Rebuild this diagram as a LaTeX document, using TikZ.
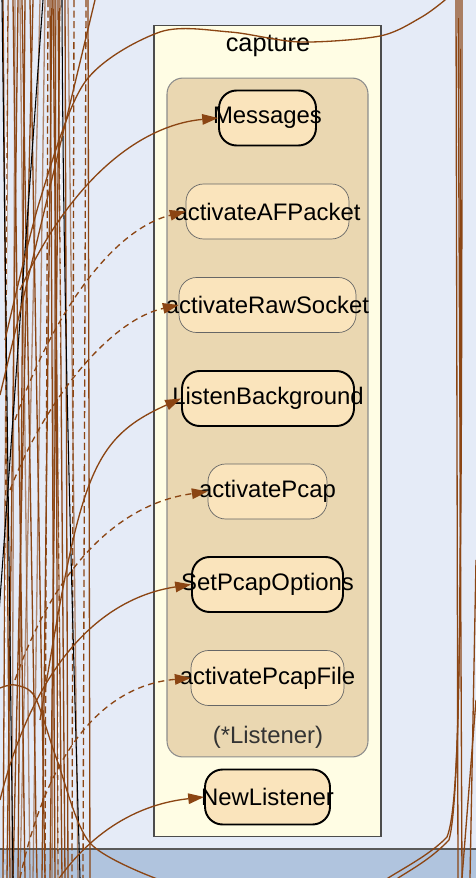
\documentclass[tikz,border=0pt]{standalone}
\usepackage{fontspec}
\setmainfont{Liberation Sans}
\usetikzlibrary{arrows.meta}
\usepackage{xcolor}
\definecolor{bgblue}{HTML}{E5EBF7}
\definecolor{bandblue}{HTML}{B0C4DE}
\definecolor{pkgfill}{HTML}{FFFDE4}
\definecolor{typefill}{HTML}{EAD7B1}
\definecolor{fnfill}{HTML}{FAE4BC}
\definecolor{edgebrown}{HTML}{8B4513}
\newcommand{\fnlabel}[1]{\makebox[0pt]{#1}}

\begin{document}
\begin{tikzpicture}[x=0.02cm,y=-0.02cm,>={Triangle[length=9pt,width=6pt]}, every node/.style={font=\fontsize{13.6}{16}\selectfont}]
\tikzstyle{fn}=[draw=black!60, line width=0.4pt, rounded corners=10pt, fill=fnfill, minimum height=1.1cm, inner sep=0pt]
\tikzstyle{fnx}=[fn, draw=black, line width=1.1pt]
\tikzstyle{cluster}=[draw, line width=0.6pt, inner sep=0pt]
\tikzstyle{call}=[->, draw=edgebrown, fill=none, line width=0.75pt]
\tikzstyle{dcall}=[call, dash pattern=on 3.5pt off 2.5pt]
\tikzstyle{wire}=[draw=edgebrown, line width=0.75pt]
\useasboundingbox (0,0) rectangle (476,878);
\clip (0,0) rectangle (476,878);
% background and bottom band
\fill[bgblue] (0,0) rectangle (476,878);
\fill[bandblue] (0,849) rectangle (476,878);
\draw[black!65, line width=0.6pt] (0,849) -- (476,849);
% calls coming in from the left, off the picture
\foreach \a/\b in {3/10, 8/3, 13/25, 18/7, 22/37, 25/18, 30/45, 33/13, 50/55, 52/42, 53/62, 55/58, 58/65, 65/68, 88/90, 60/50}
  \draw[wire] (\a,0) -- (\b,878);
\foreach \a/\b in {20/30, 40/20, 45/33, 68/78, 15/12, 56/52}
  \draw[wire, opacity=0.6] (\a,0) -- (\b,878);
\foreach \a/\b in {74/72, 86/83, 48/45}
  \draw[wire, dash pattern=on 4pt off 2pt] (\a,0) -- (\b,878);
\foreach \a/\b in {7/5, 61/58}
  \draw[wire, white, line width=0.5pt, dash pattern=on 3pt off 3pt] (\a,0) -- (\b,878);
\foreach \a/\b in {43/-20, 2/13}
  \draw[black, line width=0.6pt] (\a,0) -- (\b,878);
\draw[black, line width=0.6pt] (62,0) .. controls (63,300) and (72,600) .. (80,878);
\draw[wire] (95,0) -- (0,395);
\draw[wire] plot[smooth] coordinates {(0,688) (15,685) (35,697) (57,760) (90,843) (160,880)};
% calls going out on the right
\draw[wire] (456,0) -- (458,878);
\draw[wire] (458,0) -- (462,878);
\draw[wire] (460,0) .. controls (461,600) and (462,800) .. (447,837) .. controls (430,855) and (400,870) .. (385,880);
\draw[wire] (462,0) .. controls (462,600) and (460,800) .. (449,840) .. controls (430,860) and (410,870) .. (395,880);
\draw[wire] (476,700) -- (462,878);
\draw[wire] (476,560) -- (470,878);
% package and type clusters
\node[cluster, draw=black!70, fill=pkgfill, minimum width=4.54cm, minimum height=16.24cm] (capture) at (267.5,431) {};
\node[font=\fontsize{14.4}{17}\selectfont] (capturetitle) at (268,46) {capture};
\node[cluster, draw=black!45, fill=typefill, rounded corners=9pt, minimum width=4.02cm, minimum height=13.58cm] (listener) at (267.5,417.5) {};
\node[text=black!80] (listenertitle) at (268,737) {(*Listener)};
% functions
\node[fnx, minimum width=1.94cm] (msgs) at (267.5,118) {\fnlabel{Messages}};
\node[fn, minimum width=3.26cm] (afpacket) at (267.5,211.5) {\fnlabel{activateAFPacket}};
\node[fn, minimum width=3.54cm] (rawsock) at (267.5,305) {\fnlabel{activateRawSocket}};
\node[fnx, minimum width=3.44cm] (listenbg) at (268,398.5) {\fnlabel{ListenBackground}};
\node[fn, minimum width=2.38cm] (pcap) at (267.5,491.5) {\fnlabel{activatePcap}};
\node[fnx, minimum width=3.02cm] (pcapopts) at (267.5,584.5) {\fnlabel{SetPcapOptions}};
\node[fn, minimum width=3.06cm] (pcapfile) at (267.5,678) {\fnlabel{activatePcapFile}};
\node[fnx, minimum width=2.5cm] (newlst) at (267.5,797) {\fnlabel{NewListener}};
% callers outside the picture
\coordinate (srcmsgs) at (20,290);
\coordinate (srcaf) at (15,420);
\coordinate (srcraw) at (10,490);
\coordinate (srcbg) at (40,720);
\coordinate (srcpcap) at (15,680);
\coordinate (srcopts) at (0,800);
\coordinate (srcfile) at (20,878);
\coordinate (srcnew) at (45,900);
\coordinate (srcwave) at (5,340);
\draw[wire] plot[smooth] coordinates {(srcwave) (40,200) (85,82) (160,32) (230,32) (300,42) (380,36) (420,18) (445,0) (460,-15)};
\draw[call] (srcmsgs) .. controls (70,180) and (140,125) .. (msgs.west);
\draw[dcall] (srcaf) .. controls (50,320) and (110,230) .. (afpacket.west);
\draw[dcall] (srcraw) .. controls (45,400) and (110,320) .. (rawsock.west);
\draw[call] (srcbg) .. controls (80,480) and (88,440) .. (listenbg.west);
\draw[dcall] (srcpcap) .. controls (50,580) and (110,505) .. (pcap.west);
\draw[call] (srcopts) .. controls (30,680) and (90,600) .. (pcapopts.west);
\draw[dcall] (srcfile) .. controls (50,740) and (110,685) .. (pcapfile.west);
\draw[call] (srcnew) .. controls (80,840) and (130,805) .. (newlst.west);
\end{tikzpicture}
\end{document}
